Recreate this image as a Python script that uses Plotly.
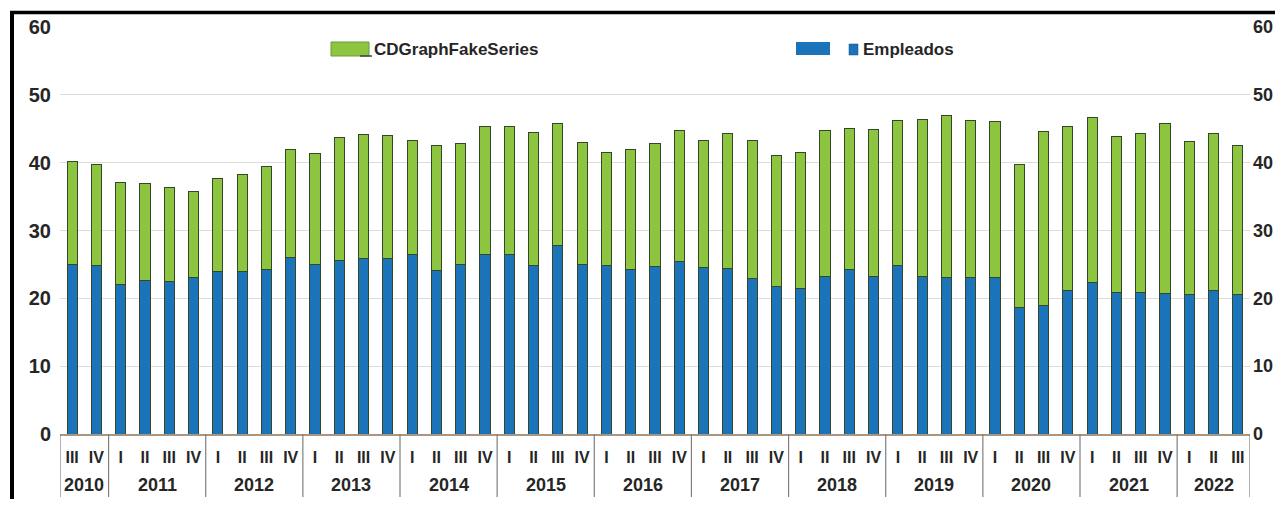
import plotly.graph_objects as go

# ---- data ----
years = (["2010"] * 2 + ["2011"] * 4 + ["2012"] * 4 + ["2013"] * 4 + ["2014"] * 4 +
         ["2015"] * 4 + ["2016"] * 4 + ["2017"] * 4 + ["2018"] * 4 + ["2019"] * 4 +
         ["2020"] * 4 + ["2021"] * 4 + ["2022"] * 3)
quarters = (["III", "IV"] + ["I", "II", "III", "IV"] * 11 + ["I", "II", "III"])

empleados = [25.0, 24.8,
             22.0, 22.7, 22.5, 23.0,
             24.0, 24.0, 24.2, 26.0,
             25.0, 25.6, 25.8, 25.8,
             26.5, 24.1, 25.0, 26.4,
             26.4, 24.8, 27.8, 25.0,
             24.8, 24.3, 24.7, 25.5,
             24.6, 24.4, 22.9, 21.8,
             21.4, 23.2, 24.3, 23.2,
             24.8, 23.2, 23.1, 23.1,
             23.1, 18.7, 19.0, 21.2,
             22.4, 20.9, 20.9, 20.7,
             20.5, 21.2, 20.6]

fake_series = [15.2, 14.9,
               15.1, 14.3, 13.8, 12.7,
               13.6, 14.2, 15.3, 16.0,
               16.4, 18.1, 18.4, 18.2,
               16.8, 18.4, 17.9, 18.9,
               18.9, 19.7, 18.0, 18.0,
               16.7, 17.7, 18.1, 19.2,
               18.6, 19.9, 20.3, 19.3,
               20.1, 21.5, 20.7, 21.7,
               21.4, 23.2, 23.9, 23.1,
               22.9, 21.1, 25.6, 24.1,
               24.3, 22.9, 23.4, 25.1,
               22.6, 23.1, 22.0]

y_ticks = [0, 10, 20, 30, 40, 50, 60]

BLUE = "#1b73b9"
GREEN = "#8dc540"
EDGE = "#33472a"
TXT = "#262626"
FONT = "Liberation Sans, Arial, sans-serif"

# page body has an 8px margin: figure is sized/offset so it fits the window without scrollbars
O = 8
W, H = 1283 - O, 507 - 2 * O
ML, MR, MT = 60 - O, 33, 27 - O
MB = H - (434 - O)
PW, PH = W - ML - MR, H - MT - MB


def px(xp):
    """reference-window x pixel -> paper coordinate"""
    return (xp - O - ML) / PW


def py(yp):
    """reference-window y pixel -> paper coordinate"""
    return (434 - yp) / PH


cats = [f"{y} {q}" for y, q in zip(years, quarters)]
n = len(cats)

fig = go.Figure()
fig.add_trace(go.Bar(x=cats, y=empleados, name="Empleados",
                     marker=dict(color=BLUE, line=dict(color=EDGE, width=1)), width=0.42))
fig.add_trace(go.Bar(x=cats, y=fake_series, name="CDGraphFakeSeries",
                     marker=dict(color=GREEN, line=dict(color=EDGE, width=1)), width=0.42))
# invisible trace for the right axis
fig.add_trace(go.Scatter(x=cats, y=empleados, yaxis="y2", mode="markers", marker=dict(opacity=0),
                         hoverinfo="skip", showlegend=False))

fig.update_layout(
    width=W, height=H,
    margin=dict(l=ML, r=MR, t=MT, b=MB, autoexpand=False),
    paper_bgcolor="white", plot_bgcolor="white",
    barmode="stack",
    showlegend=False,
    xaxis=dict(type="category", range=[-0.5, n - 0.5], tickvals=cats, ticktext=quarters, tickangle=0,
               showgrid=False, showline=True, linecolor="#a79684", linewidth=1.5, ticks="",
               automargin=False, ticklabelstandoff=8,
               tickfont=dict(family=FONT, size=16, color=TXT, weight="bold")),
    yaxis=dict(range=[0, 60], tickvals=y_ticks, showgrid=True, gridcolor="#dcdcdc", gridwidth=1,
               zeroline=False, showline=False, ticks="", ticklabelstandoff=8, automargin=False,
               tickfont=dict(family=FONT, size=20, color=TXT, weight="bold")),
    yaxis2=dict(range=[0, 60], tickvals=y_ticks, overlaying="y", side="right", showgrid=False,
                zeroline=False, showline=False, ticks="", ticklabelstandoff=2, automargin=False,
                tickfont=dict(family=FONT, size=18, color=TXT, weight="bold")),
)

shapes = [
    # frame
    dict(type="line", xref="paper", yref="paper", x0=px(12), x1=px(12), y0=py(11), y1=py(515),
         line=dict(color="black", width=4)),
    dict(type="line", xref="paper", yref="paper", x0=px(10), x1=px(1290), y0=py(12.5), y1=py(12.5),
         line=dict(color="black", width=3.5)),
    # legend swatches
    dict(type="rect", xref="paper", yref="paper", x0=px(331), x1=px(369), y0=py(56), y1=py(42),
         fillcolor=GREEN, line=dict(color="#6a9a3a", width=1)),
    dict(type="line", xref="paper", yref="paper", x0=px(360), x1=px(372), y0=py(56), y1=py(56),
         line=dict(color="#444", width=1.5)),
    dict(type="rect", xref="paper", yref="paper", x0=px(796), x1=px(830), y0=py(55), y1=py(42),
         fillcolor=BLUE, line=dict(color=BLUE, width=0)),
    dict(type="rect", xref="paper", yref="paper", x0=px(849), x1=px(858), y0=py(55), y1=py(44),
         fillcolor=BLUE, line=dict(color="#114f80", width=0.5)),
]

# year group dividers and year labels, positioned from the category index
group_start = 0
for i in range(1, n + 1):
    if i == n or years[i] != years[group_start]:
        shapes.append(dict(type="line", xref="x", yref="paper", x0=group_start - 0.5, x1=group_start - 0.5,
                           y0=0, y1=py(497), line=dict(color="#7f7f7f", width=1.2)))
        fig.add_annotation(xref="x", yref="paper", x=(group_start + i - 1) / 2, y=py(485),
                           xanchor="center", yanchor="middle", text=years[group_start], showarrow=False,
                           font=dict(family=FONT, size=18, color=TXT, weight="bold"))
        group_start = i
shapes.append(dict(type="line", xref="x", yref="paper", x0=n - 0.5, x1=n - 0.5,
                   y0=0, y1=py(497), line=dict(color="#7f7f7f", width=1.2)))
fig.update_layout(shapes=shapes)

fig.add_annotation(xref="paper", yref="paper", x=px(372), y=py(49), xanchor="left", yanchor="middle",
                   text="CDGraphFakeSeries", showarrow=False,
                   font=dict(family=FONT, size=17, color=TXT, weight="bold"))
fig.add_annotation(xref="paper", yref="paper", x=px(861), y=py(49), xanchor="left", yanchor="middle",
                   text="Empleados", showarrow=False,
                   font=dict(family=FONT, size=17, color=TXT, weight="bold"))

fig.write_html("out.html")
